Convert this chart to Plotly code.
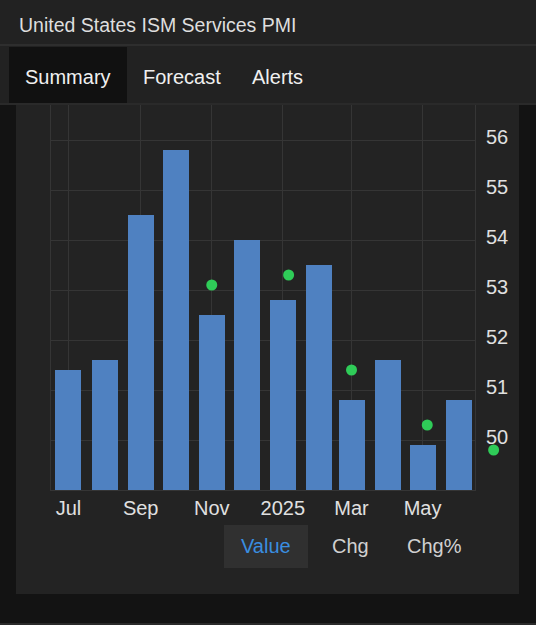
import pandas as pd
import plotly.graph_objects as go

# ---- data ----
months = ["2024-07-01", "2024-08-01", "2024-09-01", "2024-10-01", "2024-11-01", "2024-12-01",
          "2025-01-01", "2025-02-01", "2025-03-01", "2025-04-01", "2025-05-01", "2025-06-01"]
values = [51.4, 51.6, 54.5, 55.8, 52.5, 54.0, 52.8, 53.5, 50.8, 51.6, 49.9, 50.8]

forecast_dates = ["2024-11-01", "2025-01-06", "2025-03-01", "2025-05-05", "2025-07-01"]
forecast_values = [53.1, 53.3, 51.4, 50.3, 49.8]

x_tick_vals = ["2024-07-01", "2024-09-01", "2024-11-01", "2025-01-01", "2025-03-01", "2025-05-01"]
x_tick_text = ["Jul", "Sep", "Nov", "2025", "Mar", "May"]
y_tick_vals = [50, 51, 52, 53, 54, 55, 56]

title_text = "United States ISM Services PMI"
tabs = ["Summary", "Forecast", "Alerts"]
buttons = ["Value", "Chg", "Chg%"]

# ---- layout geometry (pixels) ----
W, H = 536, 625
PL, PR, PT, PB = 51, 510, 105, 490   # full drawing area (incl. overflow zone for dots)
AXR = 475                            # right edge of the main axis box
d_main = (AXR - PL) / (PR - PL)

x_start = pd.Timestamp("2024-06-16")
x_end = pd.Timestamp("2025-06-15")
x2_end = x_start + (x_end - x_start) / d_main
y_range = [49, 56.7]

def px(x):
    return (x - PL) / (PR - PL)

def py(y):
    return (PB - y) / (PB - PT)

FONT = "Liberation Sans, Arial, Helvetica, sans-serif"
CARD = "#232323"
GRID = "#353535"
BAR = "#4f81c1"
GREEN = "#2fcc58"

fig = go.Figure()

fig.add_trace(go.Bar(
    x=months, y=values,
    width=22.3 * 86400000,
    marker=dict(color=BAR, line=dict(width=0)),
    hoverinfo="skip",
    xaxis="x", yaxis="y",
))

fig.add_trace(go.Scatter(
    x=forecast_dates, y=forecast_values,
    mode="markers",
    marker=dict(color=GREEN, size=11, line=dict(width=0)),
    cliponaxis=False,
    hoverinfo="skip",
    xaxis="x2", yaxis="y2",
))

def rect(x0, y0, x1, y1, color):
    return dict(type="rect", xref="paper", yref="paper",
                x0=px(x0), x1=px(x1), y0=py(y1), y1=py(y0),
                fillcolor=color, line=dict(width=0), layer="below")

shapes = [
    rect(16, 105, 519, 594, CARD),       # chart card
    rect(0, 0, W, 44, "#222222"),         # header
    rect(0, 44, W, 46, "#2e2e2e"),        # separator
    rect(0, 46, W, 103, "#222222"),       # tab bar
    rect(9, 47, 127, 103, "#111111"),     # active tab
    rect(0, 103, W, 105, "#2a2a2a"),      # tab bar bottom line
    rect(224, 525, 308, 568, "#303030"),  # active button
    rect(0, 623, W, 625, "#2a2a2a"),      # bottom line
]

def ann(text, x, y, size, color, xanchor="center"):
    return dict(text=text, xref="paper", yref="paper", x=px(x), y=py(y),
                xanchor=xanchor, yanchor="middle", showarrow=False,
                font=dict(family=FONT, size=size, color=color))

annotations = [ann(title_text, 17, 25, 19.5, "#dedede", xanchor="left")]
for t, cx in zip(tabs, [68, 181.5, 277]):
    annotations.append(ann(t, cx, 77, 20, "#f0f0f0"))
for b, cx, col in zip(buttons, [266, 350, 434.5], ["#3a8ee0", "#d0d0d0", "#d0d0d0"]):
    annotations.append(ann(b, cx, 546, 20, col))

fig.update_layout(
    width=W, height=H, autosize=False,
    margin=dict(l=PL, r=W - PR, t=PT, b=H - PB, pad=0),
    paper_bgcolor="#131313",
    plot_bgcolor="rgba(0,0,0,0)",
    showlegend=False,
    bargap=0,
    shapes=shapes,
    annotations=annotations,
    font=dict(family=FONT, color="#dddddd"),
    xaxis=dict(
        type="date",
        domain=[0, d_main],
        range=[x_start, x_end],
        tickmode="array", tickvals=x_tick_vals, ticktext=x_tick_text,
        showgrid=True, gridcolor=GRID, gridwidth=1,
        showline=True, linecolor=GRID, linewidth=1,
        ticks="", tickfont=dict(size=20, color="#e0e0e0"),
        zeroline=False, fixedrange=True,
        anchor="y",
    ),
    yaxis=dict(
        side="right",
        anchor="x",
        range=y_range,
        tickmode="array", tickvals=y_tick_vals,
        showgrid=True, gridcolor=GRID, gridwidth=1,
        showline=True, linecolor=GRID, linewidth=1, mirror=True,
        ticks="", tickfont=dict(size=20, color="#e0e0e0"),
        ticklabelstandoff=6,
        ticklabelshift=-3,
        zeroline=False, fixedrange=True,
        layer="below traces",
    ),
    xaxis2=dict(
        type="date",
        domain=[0, 1],
        range=[x_start, x2_end],
        visible=False,
        showgrid=False, zeroline=False, fixedrange=True,
        anchor="y2",
    ),
    yaxis2=dict(
        domain=[0, 1],
        range=y_range,
        visible=False,
        showgrid=False, zeroline=False, fixedrange=True,
        anchor="x2",
    ),
)

fig.write_html(
    "out.html",
    config={"displayModeBar": False, "staticPlot": True},
    post_script="document.body.style.margin='0';document.body.style.padding='0';",
)
